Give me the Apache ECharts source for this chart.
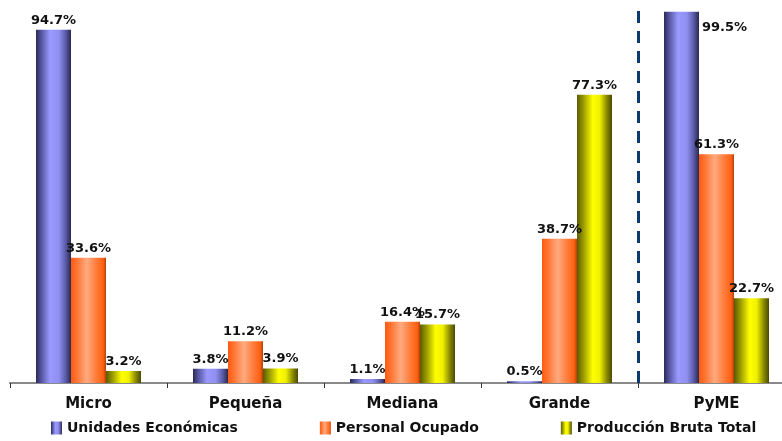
<!DOCTYPE html>
<html>
<head>
<meta charset="utf-8">
<script src="https://cdn.jsdelivr.net/npm/echarts@6/dist/echarts.min.js"></script>
<style>
  html, body { margin: 0; padding: 0; background: #fff; }
  #chart { width: 782px; height: 441px; }
</style>
</head>
<body>
<div id="chart"></div>
<script>
// Company size strata and their shares (%)
const categories = ['Micro', 'Pequeña', 'Mediana', 'Grande', 'PyME'];
const seriesNames = ['Unidades Económicas', 'Personal Ocupado', 'Producción Bruta Total'];
const unidades = [94.7, 3.8, 1.1, 0.5, 99.5];
const personal = [33.6, 11.2, 16.4, 38.7, 61.3];
const produccion = [3.2, 3.9, 15.7, 77.3, 22.7];
// Boundary (in category units) that separates the PyME aggregate from the strata
const separatorAt = 4;

const FONT = 'DejaVu Sans';

// Horizontal shading that gives each bar a cylindrical look
function shade(stops) {
  return new echarts.graphic.LinearGradient(0, 0, 1, 0,
    stops.map(([offset, color]) => ({ offset, color })));
}
const blueFill = shade([[0, '#2a2a55'], [0.15, '#5555a0'], [0.4, '#9999ff'], [0.65, '#9090f0'], [0.85, '#5a5aa8'], [1, '#28284e']]);
const orangeFill = shade([[0, '#ff5a10'], [0.2, '#ff7a3a'], [0.45, '#ffaa80'], [0.7, '#ff8040'], [0.92, '#ff6010'], [1, '#b04010']]);
const yellowFill = shade([[0, '#5a5a00'], [0.2, '#a0a000'], [0.45, '#ffff00'], [0.65, '#f0f000'], [0.85, '#8a8a00'], [1, '#4a4a00']]);

const labelStyle = {
  show: true,
  position: 'top',
  distance: 3,
  color: '#111',
  fontFamily: FONT,
  fontWeight: 'bold',
  fontSize: 13,
  formatter: p => p.value.toFixed(1) + '%'
};

function barSeries(name, values, fill) {
  return {
    name,
    type: 'bar',
    data: values,
    barWidth: 35,
    barGap: '0%',
    itemStyle: { color: fill },
    label: labelStyle
  };
}

const unidadesSeries = barSeries(seriesNames[0], unidades.map((v, i) => {
  // The tallest bar carries its label beside its top
  if (i === 4) {
    return { value: v, label: { position: [38, 9], align: 'left', verticalAlign: 'top' } };
  }
  return v;
}), blueFill);

const option = {
  animation: false,
  backgroundColor: '#ffffff',
  grid: { left: 10, width: 785, top: 10, bottom: 58, containLabel: false, outerBoundsMode: 'none' },
  legend: {
    bottom: 1,
    left: 46,
    icon: 'rect',
    itemWidth: 11,
    itemHeight: 13,
    itemGap: 82,
    textStyle: { fontFamily: FONT, fontWeight: 'bold', fontSize: 14, color: '#111' },
    data: seriesNames
  },
  xAxis: [{
    type: 'category',
    data: categories,
    boundaryGap: true,
    axisLine: { lineStyle: { color: '#8a8a8a', width: 2 } },
    axisTick: { show: true, interval: 0, alignWithLabel: false, length: 5, lineStyle: { color: '#333', width: 1 } },
    axisLabel: { margin: 14, fontFamily: FONT, fontWeight: 'bold', fontSize: 15, color: '#111' },
    splitLine: { show: false }
  }, {
    // Continuous companion axis used to place the separator between strata
    type: 'value',
    min: 0,
    max: categories.length,
    show: false
  }],
  yAxis: {
    type: 'value',
    min: 0,
    max: 100,
    show: false,
    splitLine: { show: false }
  },
  series: [
    unidadesSeries,
    barSeries(seriesNames[1], personal, orangeFill),
    barSeries(seriesNames[2], produccion, yellowFill),
    {
      type: 'scatter',
      xAxisIndex: 1,
      data: [],
      silent: true,
      markLine: {
        silent: true,
        symbol: ['none', 'none'],
        label: { show: false },
        lineStyle: { color: '#0d3a6e', width: 3, type: [12, 8] },
        data: [[{ xAxis: separatorAt, yAxis: 0 }, { xAxis: separatorAt, yAxis: 100 }]]
      }
    }
  ]
};

echarts.init(document.getElementById('chart'), null, { renderer: 'canvas' }).setOption(option);
</script>
</body>
</html>
